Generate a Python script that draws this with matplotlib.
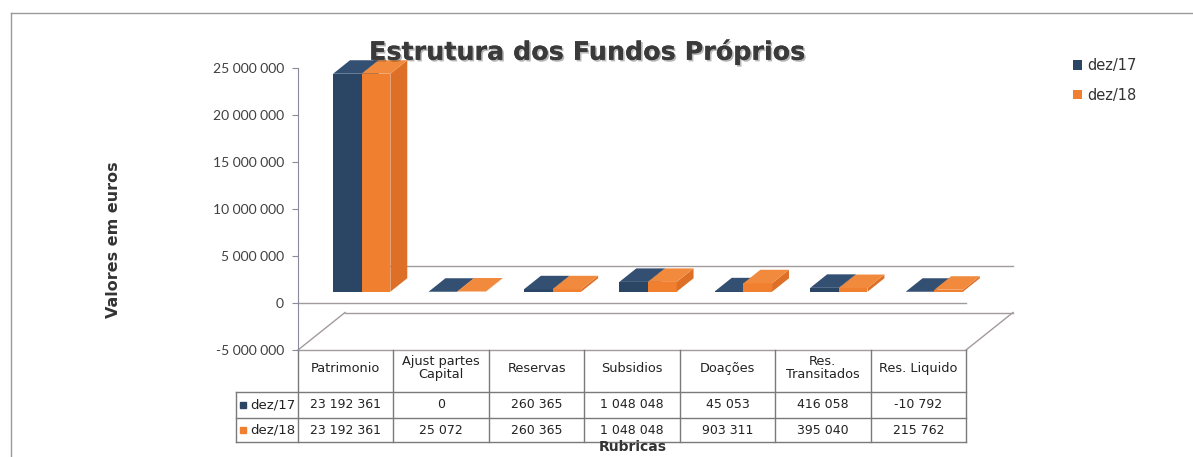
import matplotlib
matplotlib.use("Agg")
import matplotlib.pyplot as plt
import matplotlib.transforms as mtransforms
from matplotlib.patches import Polygon, Patch
from matplotlib.lines import Line2D
import matplotlib.patheffects as pe

# ---------------- data ----------------
categories = ["Patrimonio", "Ajust partes\nCapital", "Reservas", "Subsidios",
              "Doações", "Res.\nTransitados", "Res. Liquido"]
series_names = ["dez/17", "dez/18"]
dez17 = [23192361, 0, 260365, 1048048, 45053, 416058, -10792]
dez18 = [23192361, 25072, 260365, 1048048, 903311, 395040, 215762]
yticks = [-5000000, 0, 5000000, 10000000, 15000000, 20000000, 25000000]

# ---------------- style ----------------
front_cols = ["#2b4565", "#f0802f"]
side_cols = ["#223a57", "#dd6f26"]
top_cols = ["#334f72", "#f28a3e"]
line_col = "#a39a9e"
grid_text = "#404040"

W, H = 1193, 457
fig = plt.figure(figsize=(W / 100, H / 100), dpi=100)
ax_left, ax_right, ax_top, ax_bot = 298, 966, 68, 350
ax = fig.add_axes([ax_left / W, (H - ax_bot) / H, (ax_right - ax_left) / W, (ax_bot - ax_top) / H])
ymin, ymax = yticks[0], yticks[-1]
ax.set_xlim(0, len(categories))
ax.set_ylim(ymin, ymax)

# depth (oblique projection) in data units
px_x = (ax_right - ax_left) / len(categories)
px_y = (ax_bot - ax_top) / (ymax - ymin)
DX = 47 / px_x
DY = 37.5 / px_y

# frame / axis
for s in ["top", "right", "bottom"]:
    ax.spines[s].set_visible(False)
ax.spines["left"].set_color("#8a8a9a")
ax.set_xticks([])
ax.set_yticks(yticks)
ax.set_yticklabels([f"{v:,}".replace(",", " ") if v != 0 else "0" for v in yticks],
                   fontfamily="Lato", fontsize=10, color=grid_text)
ax.tick_params(axis="y", length=4, color="#8a8a9a", pad=6)
ax.patch.set_visible(False)

n = len(categories)
# floor (at minimum) and zero plane lines
ax.plot([0, n], [ymin, ymin], color=line_col, lw=1, zorder=1, clip_on=False)
ax.plot([DX, n + DX], [ymin + DY, ymin + DY], color=line_col, lw=1, zorder=1, clip_on=False)
ax.plot([0, DX], [ymin, ymin + DY], color=line_col, lw=1, zorder=1, clip_on=False)
ax.plot([n, n + DX], [ymin, ymin + DY], color=line_col, lw=1, zorder=1, clip_on=False)
ax.plot([0, n], [0, 0], color=line_col, lw=1, zorder=1, clip_on=False)
ax.plot([DX, n + DX], [DY, DY], color=line_col, lw=1, zorder=1, clip_on=False)

# 3D-like bars
w = 0.3
d0 = 0.30
db = 0.36
handles = []
for si, vals in enumerate([dez17, dez18]):
    xs = [i + 0.52 + (si - 1) * w + d0 * DX for i in range(n)]
    yb = d0 * DY
    z = 3 + si
    bars = ax.bar(xs, vals, width=w, bottom=yb, align="edge", color=front_cols[si],
                  edgecolor="none", zorder=z, clip_on=False)
    handles.append(Patch(facecolor=front_cols[si], label=series_names[si]))
    for x0, v in zip(xs, vals):
        ytop = yb + max(v, 0)
        ylow = yb + min(v, 0)
        top = Polygon([(x0, ytop), (x0 + w, ytop), (x0 + w + db * DX, ytop + db * DY),
                       (x0 + db * DX, ytop + db * DY)], closed=True,
                      facecolor=top_cols[si], edgecolor="none", zorder=z, clip_on=False)
        side = Polygon([(x0 + w, ylow), (x0 + w, ytop), (x0 + w + db * DX, ytop + db * DY),
                        (x0 + w + db * DX, ylow + db * DY)], closed=True,
                       facecolor=side_cols[si], edgecolor="none", zorder=z, clip_on=False)
        ax.add_patch(side)
        ax.add_patch(top)

# ---------------- data table ----------------
tr = mtransforms.blended_transform_factory(ax.transData, ax.transAxes)
tab_col = "#7a7a7a"
rl = -62 / px_x
r0 = 0.0
r1 = -(392 - 350) / (ax_bot - ax_top)
r2 = -(418 - 350) / (ax_bot - ax_top)
r3 = -(442 - 350) / (ax_bot - ax_top)
for xv in range(n + 1):
    ax.plot([xv, xv], [r0, r3], color=tab_col, lw=1, transform=tr, clip_on=False, zorder=2)
ax.plot([rl, rl], [r1, r3], color=tab_col, lw=1, transform=tr, clip_on=False, zorder=2)
for yv in [r1, r2, r3]:
    ax.plot([rl, n], [yv, yv], color=tab_col, lw=1, transform=tr, clip_on=False, zorder=2)

tfont = dict(fontfamily="DejaVu Sans", fontsize=9, color="#222222")
for i, c in enumerate(categories):
    ax.text(i + 0.5, (r0 + r1) / 2 + 0.01, c, ha="center", va="center", transform=tr,
            linespacing=1.0, fontfamily="DejaVu Sans", fontsize=9.3, color="#222222")
fmt = lambda v: f"{v:,}".replace(",", " ")
for ri, (vals, yc) in enumerate(zip([dez17, dez18], [(r1 + r2) / 2, (r2 + r3) / 2])):
    for i, v in enumerate(vals):
        ax.text(i + 0.5, yc, fmt(v), ha="center", va="center", transform=tr, **tfont)
    ax.plot([rl + 0.07], [yc], marker="s", ms=4.5, color=front_cols[ri], transform=tr,
            clip_on=False, zorder=5)
    ax.text(-0.03, yc, series_names[ri], ha="right", va="center", transform=tr,
            fontfamily="DejaVu Sans", fontsize=9.5, color="#222222")

# ---------------- texts ----------------
fig.text(587 / W, 1 - 52 / H, "Estrutura dos Fundos Próprios", ha="center", va="center",
         fontfamily="DejaVu Sans", fontweight="bold", fontsize=18.3, color="#3a3a3a",
         path_effects=[pe.withSimplePatchShadow(offset=(1.2, -1.2), alpha=0.3), pe.Normal()])
fig.text(113 / W, 1 - 240 / H, "Valores em euros", ha="center", va="center", rotation=90,
         fontfamily="DejaVu Sans", fontweight="bold", fontsize=11.5, color="#333333")
fig.text(633 / W, 1 - 447 / H, "Rubricas", ha="center", va="center",
         fontfamily="DejaVu Sans", fontweight="bold", fontsize=10, color="#333333")

leg = fig.legend(handles=handles, loc="upper left", bbox_to_anchor=(1060 / W, 1 - 45 / H),
                 frameon=False, handlelength=0.6, handleheight=0.6, handletextpad=0.4,
                 labelspacing=1.0, prop={"family": "DejaVu Sans", "size": 10.5})
for t in leg.get_texts():
    t.set_color("#333333")

# outer chart border
fig.add_artist(Line2D([11 / W, 11 / W], [0, 1 - 13 / H], color="#9a9a9a", lw=1))
fig.add_artist(Line2D([11 / W, 1], [1 - 13 / H, 1 - 13 / H], color="#9a9a9a", lw=1))

fig.savefig("out.png", dpi=100)
